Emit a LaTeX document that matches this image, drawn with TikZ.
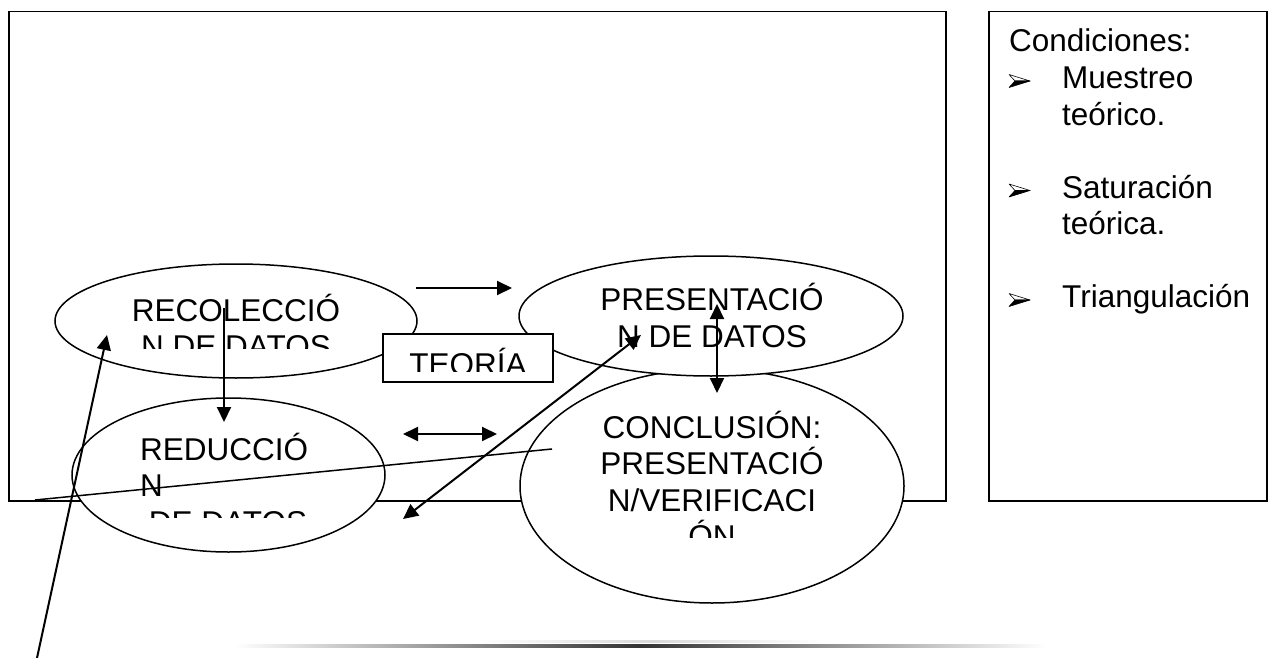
\documentclass[tikz,border=0pt]{standalone}
\usepackage{fontspec}
\setmainfont{Liberation Sans}
\usetikzlibrary{shapes.geometric,arrows.meta}
\begin{document}
\begin{tikzpicture}[x=1pt,y=-1pt,
  frame/.style={draw, line width=1.5pt, inner sep=0pt},
  oval/.style={ellipse, draw, fill=white, line width=1.5pt, inner sep=0pt},
  lbl/.style={inner sep=0pt, font=\fontsize{31.5}{36.5}\selectfont},
  conn/.style={line width=2pt},
  tip/.style={-{Triangle[length=15pt,width=14pt]}},
  tips/.style={{Triangle[length=15pt,width=14pt]}-{Triangle[length=15pt,width=14pt]}},
  bul/.pic={
    \draw[line width=0.6pt, fill=white, line join=round] (0,-6.5) -- (21,0) -- (6,0) -- cycle;
    \draw[line width=0.6pt, fill=black, line join=round] (6,0) -- (21,0) -- (0,6.5) -- cycle;
  }
]
\useasboundingbox (0,0) rectangle (1274,658);
\fill[white] (0,0) rectangle (1274,658);

% frames
\node[frame, anchor=north west, minimum width=937pt, minimum height=489pt] (main) at (8,11) {};
\node[frame, anchor=north west, minimum width=278pt, minimum height=489pt] (cond) at (988,11) {};

% ellipses
\node[oval, minimum width=384pt, minimum height=234pt] (concl) at (712,486) {};
\node[oval, minimum width=384pt, minimum height=120pt] (pres) at (711,316) {};
\node[oval, minimum width=362pt, minimum height=114pt] (recol) at (236,321) {};
\node[oval, minimum width=313pt, minimum height=154pt] (reduc) at (228.5,475) {};
\node[frame, fill=white, minimum width=170pt, minimum height=48pt] (teoria) at (468,358) {};

% ellipse texts
\begin{scope}
  \clip (40,260) rectangle (430,348);
  \node[lbl, anchor=base] (recA) at (236,321) {RECOLECCIÓ};
  \node[lbl, anchor=base] (recB) at (236,357.5) {N DE DATOS};
\end{scope}
\begin{scope}
  \clip (60,400) rectangle (400,517);
  \node[lbl, anchor=base west] (redA) at (140,460) {REDUCCIÓ};
  \node[lbl, anchor=base west] (redB) at (140,496.5) {N};
  \node[lbl, anchor=base west] (redC) at (140,533) {\ DE DATOS};
\end{scope}
\node[lbl, anchor=base] (preA) at (712,310) {PRESENTACIÓ};
\node[lbl, anchor=base] (preB) at (712,347) {N DE DATOS};
\begin{scope}
  \clip (520,400) rectangle (905,537);
  \node[lbl, anchor=base] (conA) at (712,438) {CONCLUSIÓN:};
  \node[lbl, anchor=base] (conB) at (712,474.5) {PRESENTACIÓ};
  \node[lbl, anchor=base] (conC) at (712,511) {N/VERIFICACI};
  \node[lbl, anchor=base] (conD) at (712,547.5) {ÓN};
\end{scope}
\begin{scope}
  \clip (384,335) rectangle (552,371);
  \node[lbl, anchor=base] (teoT) at (468,375.5) {TEORÍA};
\end{scope}

% conditions box
\node[lbl, anchor=base west] (cA) at (1009,52) {Condiciones:};
\node[lbl, anchor=base west] (cB) at (1062,88.5) {Muestreo};
\node[lbl, anchor=base west] (cC) at (1062,125) {teórico.};
\node[lbl, anchor=base west] (cD) at (1062,198) {Saturación};
\node[lbl, anchor=base west] (cE) at (1062,234.5) {teórica.};
\node[lbl, anchor=base west] (cF) at (1062,307.5) {Triangulación};
\pic at (1009,81) {bul};
\pic at (1009,190.5) {bul};
\pic at (1009,300) {bul};

% connectors
\coordinate (h1) at (416,288);  \coordinate (h2) at (512,288);
\coordinate (dh1) at (403,434); \coordinate (dh2) at (497,434);
\coordinate (v1) at (224,308);  \coordinate (v2) at (224,422);
\coordinate (dv1) at (717,304); \coordinate (dv2) at (717,393);
\coordinate (dg1) at (641,335); \coordinate (dg2) at (403,519);
\coordinate (ln1) at (35,500);  \coordinate (ln2) at (552,449);
\coordinate (la1) at (37,658);  \coordinate (la2) at (107,335);

\draw[conn, tip] (h1) -- (h2);
\draw[conn, tips] (dh1) -- (dh2);
\draw[conn, tip] (v1) -- (v2);
\draw[conn, tips] (dv1) -- (dv2);
\draw[conn, tips] (dg1) -- (dg2);
\draw[line width=1.5pt] (ln1) -- (ln2);
\draw[conn, tip] (la1) -- (la2);

% bottom shaded rule
\shade[left color=white, right color=white, middle color=black!15] (478,640) rectangle (823,642);
\shade[left color=white, right color=white, middle color=black!80] (235,644.5) rectangle (1045,647);
\end{tikzpicture}
\end{document}
